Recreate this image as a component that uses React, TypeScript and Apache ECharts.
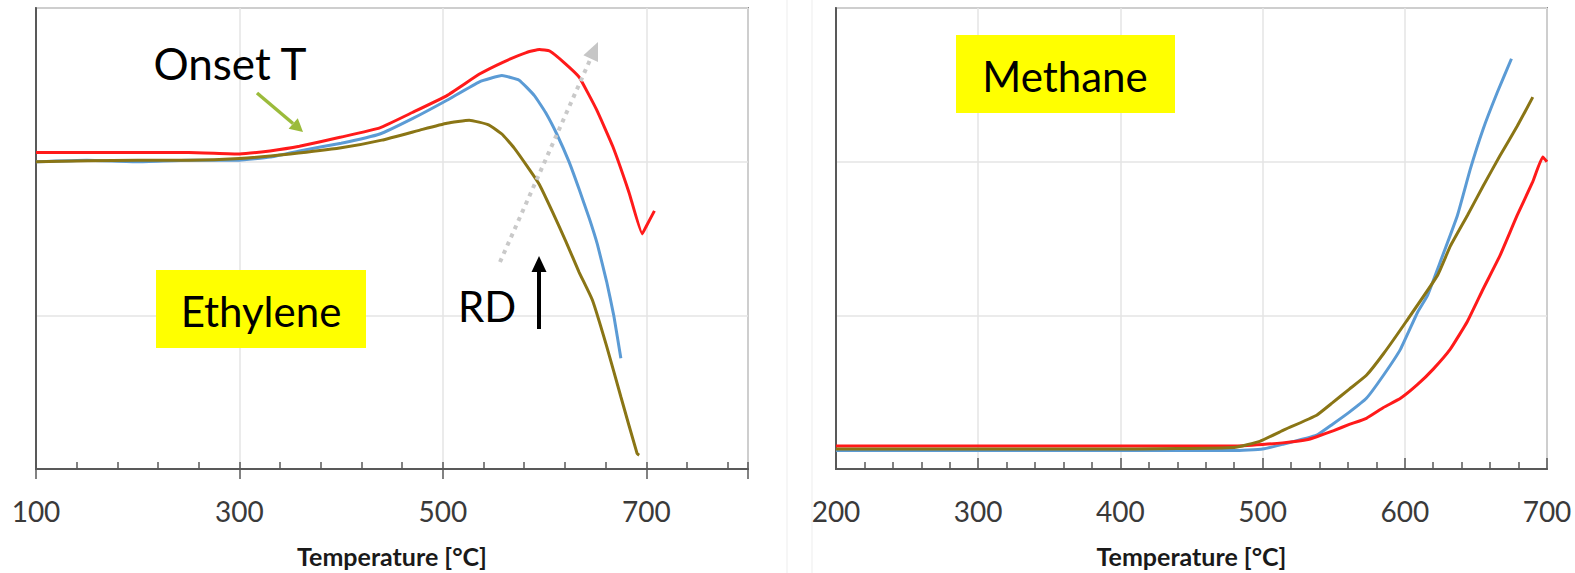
import React, { useEffect, useRef } from "react";
import * as echarts from "echarts";

// Ethylene panel (x: temperature °C, y: signal, arbitrary units)
const ethyleneBlue: [number, number][] = [
  [100, 2.0], [150, 2.01], [200, 2.0], [250, 2.01], [300, 2.01], [330, 2.03], [359, 2.07], [400, 2.12],
  [438, 2.18], [470, 2.28], [504, 2.4], [536, 2.52], [558, 2.56], [575, 2.53], [590, 2.43],
  [601, 2.32], [612, 2.18], [624, 2.0], [634, 1.82], [644, 1.63], [652, 1.46], [661, 1.22],
  [668, 1.0], [675, 0.72],
];
const ethyleneOlive: [number, number][] = [
  [100, 2.0], [200, 2.01], [250, 2.01], [300, 2.02], [350, 2.05], [400, 2.09], [440, 2.14], [480, 2.21],
  [504, 2.25], [526, 2.27], [545, 2.24], [558, 2.18], [570, 2.09], [585, 1.95], [595, 1.85], [608, 1.67],
  [621, 1.48], [634, 1.28], [647, 1.1], [661, 0.8], [675, 0.47], [691, 0.1], [693, 0.09],
];
const ethyleneRed: [number, number][] = [
  [100, 2.06], [150, 2.06], [200, 2.06], [250, 2.06], [300, 2.05], [330, 2.07], [359, 2.1], [400, 2.16],
  [438, 2.22], [470, 2.32], [504, 2.43], [536, 2.57], [560, 2.65], [582, 2.71], [595, 2.73],
  [605, 2.72], [620, 2.64], [634, 2.55], [651, 2.34], [667, 2.1], [683, 1.8], [696, 1.53],
  [700, 1.58], [708, 1.68],
];

// Methane panel
const methaneBlue: [number, number][] = [
  [200, 0.12], [300, 0.12], [400, 0.12], [480, 0.12], [500, 0.13], [514, 0.16], [538, 0.22],
  [549, 0.29], [561, 0.37], [573, 0.46], [585, 0.61], [597, 0.78], [609, 1.02], [616, 1.13],
  [623, 1.3], [637, 1.65], [646, 1.95], [655, 2.21], [665, 2.45], [675, 2.67],
];
const methaneOlive: [number, number][] = [
  [200, 0.13], [300, 0.13], [400, 0.13], [480, 0.14], [498, 0.18], [514, 0.25], [538, 0.35],
  [549, 0.43], [561, 0.52], [573, 0.61], [585, 0.75], [601, 0.96], [623, 1.26], [632, 1.45],
  [644, 1.65], [655, 1.84], [667, 2.04], [679, 2.23], [690, 2.42],
];
const methaneRed: [number, number][] = [
  [200, 0.15], [300, 0.15], [400, 0.15], [480, 0.15], [500, 0.16], [514, 0.17], [531, 0.19],
  [538, 0.21], [550, 0.25], [561, 0.29], [573, 0.33], [585, 0.4], [597, 0.46], [609, 0.55],
  [620, 0.65], [632, 0.78], [644, 0.96], [655, 1.17], [667, 1.39], [679, 1.65], [690, 1.87],
  [697, 2.03], [700, 2.0],
];

const leftTicks = { min: 100, max: 800, interval: 200 };
const rightTicks = { min: 200, max: 700, interval: 100 };
const xTitle = "Temperature [°C]";
const colors = { red: "#ff1a1a", blue: "#5b9bd5", olive: "#8a7515" };

const FONT = "Lato, 'Open Sans', sans-serif";

export default function App() {
  const ref = useRef<HTMLDivElement>(null);
  useEffect(() => {
    if (!ref.current) return;
    const chart = echarts.init(ref.current, null, { renderer: "svg" });
    const axisColor = "#595959";
    const gridLine = { show: true, lineStyle: { color: "#e4e4e4", width: 1.5 } };
    const mainX = (gridIndex: number, t: any, tickLen: number, showMax: boolean) => ({
      type: "value",
      gridIndex,
      position: "bottom",
      min: t.min,
      max: t.max,
      interval: t.interval,
      axisLine: { show: true, lineStyle: { color: axisColor, width: 2 } },
      axisTick: { show: true, inside: true, length: tickLen, lineStyle: { color: axisColor, width: 1.5 } },
      minorTick: { show: true, splitNumber: 5, length: 7, lineStyle: { color: axisColor, width: 1.5 } },
      splitLine: gridLine,
      axisLabel: { fontSize: 28, color: "#3a3a3a", margin: 28, fontFamily: FONT, showMaxLabel: showMax, showMinLabel: true },
      name: xTitle,
      nameLocation: "middle",
      nameGap: 74,
      nameTextStyle: { fontSize: 25, fontWeight: "bold", color: "#1a1a1a", fontFamily: FONT },
    });
    const yAx = (gridIndex: number) => ({
      type: "value",
      gridIndex,
      min: 0,
      max: 3,
      interval: 1,
      axisLine: { show: true, lineStyle: { color: axisColor, width: 2 } },
      axisTick: { show: false },
      axisLabel: { show: false },
      splitLine: gridLine,
    });
    const line = (data: [number, number][], color: string, xi: number, yi: number, w = 3) => ({
      type: "line",
      data,
      xAxisIndex: xi,
      yAxisIndex: yi,
      showSymbol: false,
      smooth: 0.12,
      lineStyle: { color, width: w },
      itemStyle: { color },
      z: 3,
    });
    const arrowHead = (pts: number[][], fill: string) => ({
      type: "polygon",
      shape: { points: pts },
      style: { fill },
    });
    chart.setOption({
      animation: false,
      backgroundColor: "#ffffff",
      grid: [
        { left: 36, top: 8, width: 712, height: 463, show: true, borderColor: "#8c8c8c", borderWidth: 2 },
        { left: 836, top: 8, width: 711, height: 463, show: true, borderColor: "#8c8c8c", borderWidth: 2 },
      ],
      xAxis: [
        mainX(0, leftTicks, 7, false),
        {
          type: "value",
          gridIndex: 0,
          position: "bottom",
          offset: 0,
          min: leftTicks.min,
          max: leftTicks.max,
          interval: leftTicks.interval,
          axisLine: { show: false },
          axisTick: { show: true, inside: false, length: 10, lineStyle: { color: axisColor, width: 1.5 } },
          axisLabel: { show: false },
          splitLine: { show: false },
        },
        mainX(1, rightTicks, 11, true),
      ],
      yAxis: [yAx(0), yAx(1)],
      series: [
        line(ethyleneBlue, colors.blue, 0, 0),
        line(ethyleneOlive, colors.olive, 0, 0),
        line(ethyleneRed, colors.red, 0, 0),
        line(methaneBlue, colors.blue, 2, 1),
        line(methaneRed, colors.red, 2, 1),
        line(methaneOlive, colors.olive, 2, 1),
      ],
      graphic: [
        { type: "line", shape: { x1: 787, y1: 0, x2: 787, y2: 573 }, style: { stroke: "#f3f3f3", lineWidth: 1.5 } },
        { type: "line", shape: { x1: 812, y1: 0, x2: 812, y2: 573 }, style: { stroke: "#f3f3f3", lineWidth: 1.5 } },
        // Onset T
        { type: "text", x: 230, y: 63, style: { text: "Onset T", fontSize: 44, fontFamily: FONT, fill: "#000", align: "center", verticalAlign: "middle" }, z: 10 },
        { type: "line", shape: { x1: 257, y1: 93, x2: 293, y2: 123.5 }, style: { stroke: "#9bbb3b", lineWidth: 3.5 }, z: 10 },
        { ...arrowHead([[303, 132], [288.6, 128.8], [297.8, 118.2]], "#9bbb3b"), z: 10 },
        // Ethylene label
        { type: "rect", shape: { x: 156, y: 270, width: 210, height: 78 }, style: { fill: "#ffff00" }, z: 10 },
        { type: "text", x: 261, y: 311, style: { text: "Ethylene", fontSize: 42, fontFamily: FONT, fill: "#000", align: "center", verticalAlign: "middle" }, z: 11 },
        // RD
        { type: "text", x: 487, y: 306, style: { text: "RD", fontSize: 42, fontFamily: FONT, fill: "#000", align: "center", verticalAlign: "middle" }, z: 10 },
        { type: "line", shape: { x1: 539, y1: 329, x2: 539, y2: 270 }, style: { stroke: "#000", lineWidth: 4 }, z: 10 },
        { ...arrowHead([[539, 256], [531.5, 272], [546.5, 272]], "#000"), z: 10 },
        // grey dotted arrow
        { type: "line", shape: { x1: 500, y1: 262, x2: 590, y2: 60 }, style: { stroke: "#c9c9c9", lineWidth: 4, lineDash: [4, 5] }, z: 10 },
        { ...arrowHead([[598, 42], [598, 62], [583.4, 55.2]], "#c6c6c6"), z: 10 },
        // Methane label
        { type: "rect", shape: { x: 956, y: 35, width: 219, height: 78 }, style: { fill: "#ffff00" }, z: 10 },
        { type: "text", x: 1065, y: 76, style: { text: "Methane", fontSize: 42, fontFamily: FONT, fill: "#000", align: "center", verticalAlign: "middle" }, z: 11 },
      ],
    });
    return () => chart.dispose();
  }, []);
  return <div ref={ref} style={{ position: "absolute", left: 0, top: 0, width: 1575, height: 573 }} />;
}
